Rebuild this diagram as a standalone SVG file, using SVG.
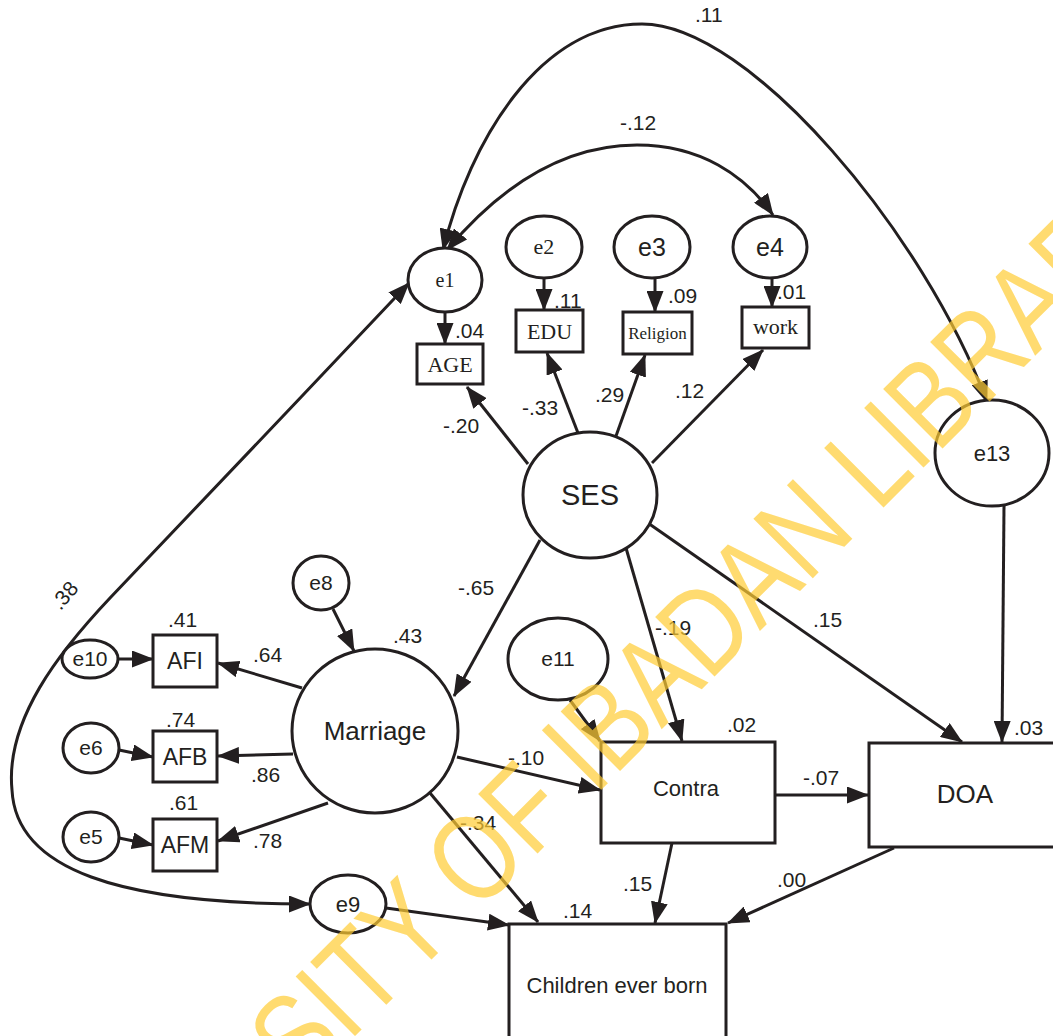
<svg xmlns="http://www.w3.org/2000/svg" width="1053" height="1036" viewBox="0 0 1053 1036">
<defs>
<marker id="ah" markerUnits="userSpaceOnUse" markerWidth="22" markerHeight="17" refX="21" refY="8.5" orient="auto-start-reverse" viewBox="0 0 22 17"><path d="M0,0 L22,8.5 L0,17 z" fill="#231f20"/></marker>
<style>
.n{fill:#fff;stroke:#231f20;stroke-width:3}
.c{fill:none;stroke:#231f20;stroke-width:3}
.a{fill:none;stroke:#231f20;stroke-width:3;marker-end:url(#ah)}
.d{fill:none;stroke:#231f20;stroke-width:3;marker-start:url(#ah);marker-end:url(#ah)}
.s{font-family:"Liberation Sans",Arial,sans-serif;fill:#231f20}
.t{font-family:"Liberation Serif","Times New Roman",serif;fill:#231f20}
.m{text-anchor:middle}
.l{font-family:"Liberation Sans",Arial,sans-serif;font-size:21px;fill:#231f20}
</style>
</defs>
<rect width="1053" height="1036" fill="#fff"/>
<g id="connectors">
<path class="d" d="M443,250 C470,140 540,24 642,24 C750,24 925,235 987,402"/>
<path class="d" d="M447,250 C510,175 575,145 637,145 C700,145 745,175 773,215"/>
<path class="d" d="M409,283 C310,388 170,535 110,598 C60,651 5,720 12,790 C16,870 120,904 310,904"/>
<line class="a" x1="445" y1="312" x2="445" y2="344"/>
<line class="a" x1="544" y1="278" x2="544" y2="310"/>
<line class="a" x1="655" y1="278" x2="655" y2="312"/>
<line class="a" x1="772" y1="278" x2="772" y2="307"/>
<line class="a" x1="528" y1="464" x2="467" y2="387"/>
<line class="a" x1="578" y1="433" x2="547" y2="353"/>
<line class="a" x1="616" y1="436" x2="645" y2="355"/>
<line class="a" x1="652" y1="463" x2="763" y2="350"/>
<line class="a" x1="540" y1="540" x2="454" y2="696"/>
<line class="a" x1="333" y1="609" x2="354" y2="651"/>
<line class="a" x1="570" y1="700" x2="600" y2="741"/>
<line class="a" x1="626" y1="548" x2="682" y2="741"/>
<line class="a" x1="457" y1="757" x2="600" y2="790"/>
<line class="a" x1="430" y1="793" x2="538" y2="922"/>
<line class="a" x1="775" y1="795" x2="868" y2="795"/>
<line class="a" x1="648" y1="523" x2="962" y2="742"/>
<line class="a" x1="1004" y1="506" x2="1002" y2="742"/>
<line class="a" x1="672" y1="843" x2="655" y2="923"/>
<line class="a" x1="894" y1="848" x2="728" y2="923"/>
<line class="a" x1="386" y1="908" x2="509" y2="925"/>
<line class="a" x1="118" y1="659" x2="153" y2="659"/>
<line class="a" x1="302" y1="688" x2="218" y2="663"/>
<line class="a" x1="119" y1="750" x2="153" y2="757"/>
<line class="a" x1="293" y1="754" x2="218" y2="756"/>
<line class="a" x1="119" y1="838" x2="153" y2="845"/>
<line class="a" x1="328" y1="803" x2="218" y2="841"/>
</g>
<g id="e1"><ellipse class="n" cx="445" cy="280" rx="37" ry="32"/><text class="t m" x="445" y="287" font-size="20">e1</text></g>
<g id="e2"><ellipse class="n" cx="544" cy="247" rx="38" ry="31"/><text class="t m" x="544" y="254" font-size="22">e2</text></g>
<g id="e3"><ellipse class="n" cx="652" cy="247" rx="38" ry="31"/><text class="s m" x="652" y="256" font-size="25">e3</text></g>
<g id="e4"><ellipse class="n" cx="770" cy="247" rx="37" ry="31"/><text class="s m" x="770" y="256" font-size="25">e4</text></g>
<g id="AGE"><rect class="n" x="417" y="344" width="66" height="40"/><text class="t m" x="450" y="372" font-size="22">AGE</text></g>
<g id="EDU"><rect class="n" x="516" y="310" width="67" height="42"/><text class="t m" x="549.5" y="339" font-size="22">EDU</text></g>
<g id="Religion"><rect class="n" x="623" y="312" width="69" height="42"/><text class="t m" x="657.5" y="339" font-size="17">Religion</text></g>
<g id="work"><rect class="n" x="742" y="307" width="67" height="41"/><text class="t m" x="775.5" y="334" font-size="22">work</text></g>
<g id="SES"><ellipse class="n" cx="590" cy="495" rx="67" ry="63"/><text class="s m" x="590" y="505" font-size="29">SES</text></g>
<g id="Marriage"><ellipse class="n" cx="375" cy="731" rx="83" ry="82"/><text class="s m" x="375" y="740" font-size="26">Marriage</text></g>
<g id="e8"><ellipse class="n" cx="321" cy="583" rx="28" ry="27"/><text class="s m" x="321" y="590" font-size="21">e8</text></g>
<g id="e11"><ellipse class="n" cx="558" cy="659" rx="50" ry="41"/><text class="s m" x="558" y="666" font-size="21">e11</text></g>
<g id="Contra"><rect class="n" x="601" y="742" width="174" height="101"/><text class="s m" x="686" y="796" font-size="22">Contra</text></g>
<g id="DOA"><rect class="n" x="869" y="743" width="200" height="104"/><text class="s m" x="965" y="803" font-size="26">DOA</text></g>
<g id="e13"><ellipse class="n" cx="992" cy="453" rx="57" ry="53"/><text class="s m" x="992" y="461" font-size="22">e13</text></g>
<g id="Children"><rect class="n" x="509" y="924" width="217" height="120"/><text class="s m" x="617" y="993" font-size="22">Children ever born</text></g>
<g id="e9"><ellipse class="n" cx="348" cy="904" rx="38" ry="29"/><text class="s m" x="348" y="912" font-size="22">e9</text></g>
<g id="e10"><ellipse class="n" cx="90" cy="659" rx="28" ry="19"/><text class="s m" x="90" y="666" font-size="21">e10</text></g>
<g id="AFI"><rect class="n" x="153" y="635" width="64" height="52"/><text class="s m" x="185" y="669" font-size="23">AFI</text></g>
<g id="e6"><ellipse class="n" cx="91" cy="748" rx="28" ry="25"/><text class="s m" x="91" y="755" font-size="21">e6</text></g>
<g id="AFB"><rect class="n" x="153" y="731" width="64" height="51"/><text class="s m" x="185" y="765" font-size="23">AFB</text></g>
<g id="e5"><ellipse class="n" cx="91" cy="837" rx="28" ry="25"/><text class="s m" x="91" y="844" font-size="21">e5</text></g>
<g id="AFM"><rect class="n" x="153" y="819" width="64" height="52"/><text class="s m" x="185" y="853" font-size="23">AFM</text></g>
<g id="labels">
<text class="l" x="695" y="22">.11</text>
<text class="l" x="620" y="130">-.12</text>
<text class="l" transform="translate(70,600) rotate(-50)" text-anchor="middle">.38</text>
<text class="l" x="455" y="338">.04</text>
<text class="l" x="554" y="308">.11</text>
<text class="l" x="668" y="303">.09</text>
<text class="l" x="777" y="299">.01</text>
<text class="l" x="443" y="433">-.20</text>
<text class="l" x="522" y="415">-.33</text>
<text class="l" x="595" y="402">.29</text>
<text class="l" x="675" y="398">.12</text>
<text class="l" x="458" y="595">-.65</text>
<text class="l" x="393" y="643">.43</text>
<text class="l" x="655" y="635">-.19</text>
<text class="l" x="813" y="627">.15</text>
<text class="l" x="727" y="732">.02</text>
<text class="l" x="1014" y="735">.03</text>
<text class="l" x="508" y="765">-.10</text>
<text class="l" x="803" y="785">-.07</text>
<text class="l" x="460" y="830">-.34</text>
<text class="l" x="623" y="891">.15</text>
<text class="l" x="777" y="887">.00</text>
<text class="l" x="563" y="918">.14</text>
<text class="l" x="168" y="627">.41</text>
<text class="l" x="253" y="662">.64</text>
<text class="l" x="166" y="727">.74</text>
<text class="l" x="251" y="782">.86</text>
<text class="l" x="169" y="810">.61</text>
<text class="l" x="253" y="848">.78</text>
</g>
<text transform="translate(34,1357) rotate(-45) scale(0.82,1)" font-family="Liberation Sans,Arial,sans-serif" font-size="122" fill="#FFCC33" fill-opacity="0.7">UNIVERSITY OF IBADAN LIBRARY</text>
</svg>
